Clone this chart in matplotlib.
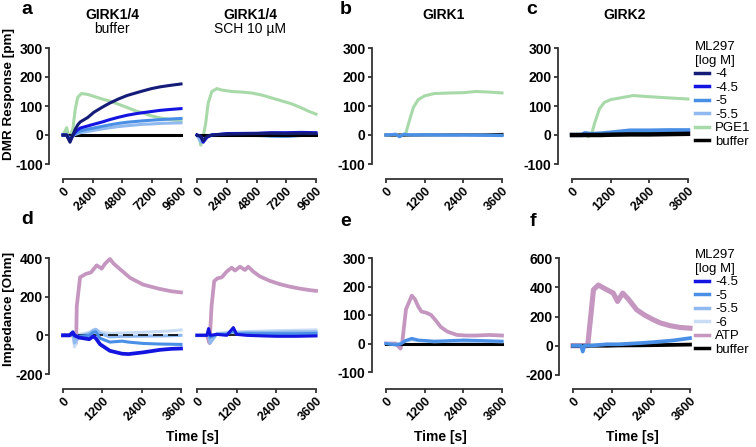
import matplotlib.pyplot as plt
from matplotlib.lines import Line2D

plt.rcParams['font.family'] = ['Liberation Sans', 'DejaVu Sans']

# colours of the series
col_m4 = '#141c78'
col_m45 = '#1414e0'
col_m5 = '#4a8fe6'
col_m55 = '#8fb9ef'
col_m6 = '#c9dcf5'
col_pge = '#a8d9a8'
col_atp = '#c496c0'
col_buf = 'black'

# ---------------- a : GIRK1/4 buffer, DMR ----------------
a_pge_t = [0, 300, 400, 550, 800, 1000, 1200, 1500, 2000, 2600, 3200, 3800, 4400, 5200, 6000, 6500, 7200, 8000, 8800, 9600]
a_pge_v = [0, 25, 5, -5, 20, 90, 130, 143, 140, 132, 124, 117, 108, 95, 82, 76, 66, 58, 53, 50]
a_t = [0, 300, 400, 570, 800, 1000, 1200, 1400, 2000, 2500, 3200, 3800, 4500, 5200, 6000, 6500, 7200, 7900, 8700, 9600]
a_m4 = [0, 0, -10, -25, 0, 20, 35, 45, 60, 78, 96, 110, 124, 136, 146, 152, 160, 166, 171, 176]
a_m45 = [0, 0, -8, -20, -2, 10, 18, 24, 31, 37, 45, 53, 61, 68, 74, 77, 81, 85, 88, 91]
a_m5 = [0, 0, -5, -15, -2, 5, 10, 14, 20, 24, 30, 35, 40, 44, 47, 49, 51, 53, 55, 57]
a_m55 = [0, 0, -5, -12, -3, 2, 5, 8, 12, 16, 21, 25, 29, 32, 35, 37, 38, 40, 41, 42]

# ---------------- a : GIRK1/4 SCH 10 uM, DMR ----------------
a2_pge_t = [0, 200, 300, 500, 700, 900, 1200, 1600, 2000, 2800, 3600, 4400, 5200, 6000, 6800, 7600, 8400, 9000, 9600]
a2_pge_v = [0, -10, -35, -5, 40, 110, 150, 160, 155, 150, 148, 145, 138, 128, 118, 108, 94, 82, 72]
a2_t = [0, 300, 500, 800, 1200, 2400, 4800, 6000, 7200, 8400, 9600]
a2_m4 = [0, -5, -20, -5, 0, 3, 5, 6, 5, 6, 5]
a2_m45 = [0, -5, -25, -8, 0, 5, 6, 8, 8, 9, 8]
a2_m5 = [0, -8, -15, -5, 0, 2, 0, -3, -4, -1, 2]
a2_m55 = [0, -25, -10, -3, 0, 0, -2, -4, -5, -2, 0]

# ---------------- b : GIRK1, DMR ----------------
b_pge_t = [0, 300, 450, 600, 700, 850, 1000, 1200, 1500, 2000, 2400, 2800, 3200, 3600]
b_pge_v = [0, 0, -3, 0, 40, 95, 122, 135, 143, 145, 146, 150, 148, 145]
b_t = [0, 300, 420, 550, 800, 1200, 1800, 2400, 3000, 3600]
b_m5 = [0, 2, -6, 2, 0, 1, 0, 0, -1, -2]
b_m55 = [0, 3, -4, 3, 1, 0, -1, 0, 0, -1]
b_buf = [0, 0, 0, 0, 0, 0, 0, 1, 1, 2]

# ---------------- c : GIRK2, DMR ----------------
c_pge_t = [0, 300, 400, 500, 600, 700, 850, 1000, 1200, 1500, 1900, 2400, 3000, 3600]
c_pge_v = [0, 0, 5, -6, 0, 40, 90, 112, 122, 128, 136, 132, 128, 124]
c_t = [0, 300, 400, 600, 900, 1200, 1800, 2400, 3000, 3600]
c_m5 = [0, 0, 6, 3, 5, 8, 15, 15, 16, 16]
c_m55 = [0, 0, 4, 2, 4, 6, 11, 12, 12, 13]
c_buf = [0, 0, 0, 0, 0, 1, 2, 2, 3, 4]

# ---------------- d : GIRK1/4 buffer, impedance ----------------
d_atp_t = [0, 300, 400, 420, 520, 700, 850, 1030, 1180, 1280, 1430, 1550, 1700, 2050, 2450, 2950, 3300, 3600]
d_atp_v = [0, 0, -40, 150, 300, 318, 325, 362, 345, 370, 395, 370, 348, 297, 262, 240, 228, 222]
d_t = [0, 200, 300, 350, 500, 800, 920, 1000, 1130, 1430, 1800, 2000, 2450, 2960, 3300, 3600]
d_m45 = [0, 0, 15, 0, -12, -20, -5, -15, -46, -80, -95, -97, -88, -75, -70, -68]
d_m5 = [0, 0, 10, -5, -5, 0, 15, 18, -15, -35, -30, -35, -42, -45, -46, -47]
d_m55 = [0, 0, 20, -40, -5, 10, 25, 30, 10, -8, -5, -5, -4, -3, -2, 0]
d_m6 = [0, 0, 15, -60, 5, 15, 28, 32, 18, 10, 12, 13, 16, 20, 23, 28]

# ---------------- d : GIRK1/4 SCH 10 uM, impedance ----------------
d2_atp_t = [0, 300, 380, 440, 520, 620, 750, 900, 1050, 1150, 1300, 1450, 1550, 1700, 1900, 2200, 2500, 2800, 3100, 3400, 3600]
d2_atp_v = [0, 0, -40, 150, 280, 295, 300, 330, 350, 335, 355, 338, 355, 330, 305, 282, 265, 252, 242, 234, 230]
d2_t = [0, 300, 350, 400, 600, 900, 1000, 1100, 1200, 1500, 2000, 2400, 3000, 3600]
d2_m45 = [0, 0, 35, 0, 5, 0, 20, 40, 5, 0, -3, -5, -5, -3]
d2_m5 = [0, 0, 20, -10, 5, 5, 15, 20, 8, 8, 8, 8, 8, 10]
d2_m55 = [0, 0, 10, -40, 8, 10, 15, 18, 12, 15, 15, 16, 18, 18]
d2_m6 = [0, 0, 5, -20, 10, 15, 20, 25, 18, 20, 22, 24, 26, 28]

# ---------------- e : GIRK1, impedance ----------------
e_atp_t = [0, 300, 450, 500, 620, 800, 900, 1000, 1100, 1250, 1400, 1550, 1700, 1900, 2200, 2500, 2800, 3200, 3600]
e_atp_v = [0, 0, -18, 0, 120, 168, 155, 130, 112, 108, 100, 80, 58, 42, 30, 28, 28, 30, 28]
e_t = [0, 300, 450, 600, 800, 1000, 1500, 2000, 2400, 3000, 3600]
e_m5 = [0, -5, -2, 10, 18, 12, 8, 10, 12, 10, 8]
e_m55 = [0, -3, 0, 8, 14, 10, 6, 8, 8, 8, 6]
e_buf = [0, 0, 0, 0, 0, 0, 0, 0, 0, 0, 0]

# ---------------- f : GIRK2, impedance ----------------
f_atp_t = [0, 300, 450, 480, 630, 780, 900, 1040, 1240, 1370, 1530, 1700, 1960, 2200, 2470, 2700, 2990, 3300, 3600]
f_atp_v = [0, 0, 0, 60, 383, 415, 400, 383, 360, 303, 360, 320, 246, 210, 178, 155, 137, 125, 120]
f_t = [0, 250, 300, 350, 600, 1040, 1400, 2060, 2500, 3080, 3600]
f_m5 = [0, 0, -40, 0, 2, 10, 10, 18, 25, 36, 52]
f_buf = [0, 0, 0, 0, 0, 0, 2, 3, 4, 6, 8]

W, H = 756, 447
fig = plt.figure(figsize=(W / 100, H / 100), dpi=100)


def panel(x0, x1, xmax, xticks, ytop, ybot, ymin, ymax, yticks, xaxis_y, show_y=True):
    # axes placed in pixels; y spine and x spine are kept apart like Prism does
    yaxis_x = x0 - 14
    left, right = yaxis_x, x1 + 3
    top, bottom = ytop - 5, xaxis_y
    ax = fig.add_axes([left / W, 1 - bottom / H, (right - left) / W, (bottom - top) / H])
    sx = xmax / (x1 - x0)
    sy = (ymax - ymin) / (ybot - ytop)
    ax.set_xlim(-(x0 - yaxis_x) * sx, xmax + 3 * sx)
    ax.set_ylim(ymin - (xaxis_y - ybot) * sy, ymax + 5 * sy)
    for s in ['top', 'right']:
        ax.spines[s].set_visible(False)
    for s in ['left', 'bottom']:
        ax.spines[s].set_linewidth(1.3)
        ax.spines[s].set_color('#333333')
    ax.spines['bottom'].set_bounds(0, xmax)
    ax.spines['left'].set_bounds(ymin, ymax)
    ax.set_xticks(xticks)
    ax.set_xticklabels([str(v) for v in xticks], rotation=45, ha='right',
                       rotation_mode='anchor', fontsize=9, fontweight='bold')
    ax.tick_params(axis='both', length=3, width=1.3, color='#333333', pad=1.5)
    if show_y:
        ax.set_yticks(yticks)
        ax.set_yticklabels([str(v) for v in yticks], fontsize=10, fontweight='bold')
    else:
        ax.spines['left'].set_visible(False)
        ax.set_yticks([])
    ax.patch.set_alpha(0)
    return ax


def add_legend(ax, colors, labels, top_px):
    handles = [Line2D([], [], color=c, lw=2.5) for c in colors]
    ax.legend(handles, labels, title='ML297\n[log M]', alignment='left', frameon=False,
              loc='upper left', bbox_to_anchor=(681 / W, 1 - top_px / H),
              bbox_transform=fig.transFigure, fontsize=9.5, title_fontsize=9.5,
              handlelength=1.05, handletextpad=0.5, labelspacing=0.1, borderpad=0.55)


lw = 2.2
t_long = [0, 2400, 4800, 7200, 9600]
t_short = [0, 1200, 2400, 3600]

# row 1
ax = panel(63, 181, 9600, t_long, 48, 164, -100, 300, [-100, 0, 100, 200, 300], 179)
ax.plot(a_pge_t, a_pge_v, color=col_pge, lw=lw)
ax.plot([0, 9600], [0, 0], color=col_buf, lw=lw)
ax.plot(a_t, a_m55, color=col_m55, lw=lw)
ax.plot(a_t, a_m5, color=col_m5, lw=lw)
ax.plot(a_t, a_m45, color=col_m45, lw=lw)
ax.plot(a_t, a_m4, color=col_m4, lw=lw)

ax = panel(197, 316, 9600, t_long, 48, 164, -100, 300, [], 179, show_y=False)
ax.plot(a2_pge_t, a2_pge_v, color=col_pge, lw=lw)
ax.plot(a2_t, a2_m55, color=col_m55, lw=lw)
ax.plot(a2_t, a2_m5, color=col_m5, lw=lw)
ax.plot([0, 9600], [0, 0], color=col_buf, lw=lw)
ax.plot(a2_t, a2_m45, color=col_m45, lw=lw)
ax.plot(a2_t, a2_m4, color=col_m4, lw=lw)

ax = panel(386, 502, 3600, t_short, 48, 164, -100, 300, [-100, 0, 100, 200, 300], 179)
ax.plot(b_pge_t, b_pge_v, color=col_pge, lw=lw)
ax.plot(b_t, b_buf, color=col_buf, lw=lw)
ax.plot(b_t, b_m55, color=col_m55, lw=lw)
ax.plot(b_t, b_m5, color=col_m5, lw=lw)

ax = panel(572, 688, 3600, t_short, 48, 164, -100, 300, [-100, 0, 100, 200, 300], 179)
ax.plot(c_pge_t, c_pge_v, color=col_pge, lw=lw)
ax.plot(c_t, c_m55, color=col_m55, lw=lw)
ax.plot(c_t, c_m5, color=col_m5, lw=lw + 1)
ax.plot(c_t, c_buf, color=col_buf, lw=lw + 1)
add_legend(ax, [col_m4, col_m45, col_m5, col_m55, col_pge, col_buf],
           ['-4', '-4.5', '-5', '-5.5', 'PGE1', 'buffer'], 27)

# row 2
ax = panel(63, 181, 3600, t_short, 258, 374, -200, 400, [-200, 0, 200, 400], 389)
ax.plot(d_atp_t, d_atp_v, color=col_atp, lw=lw + 0.5)
ax.plot(d_t, d_m6, color=col_m6, lw=lw)
ax.plot(d_t, d_m55, color=col_m55, lw=lw)
ax.plot([0, 3600], [0, 0], color=col_buf, lw=1.2, ls=(0, (6, 3)))
ax.plot(d_t, d_m5, color=col_m5, lw=lw)
ax.plot(d_t, d_m45, color=col_m45, lw=lw + 0.5)

ax = panel(197, 316, 3600, t_short, 258, 374, -200, 400, [], 389, show_y=False)
ax.plot(d2_atp_t, d2_atp_v, color=col_atp, lw=lw + 0.5)
ax.plot(d2_t, d2_m6, color=col_m6, lw=lw)
ax.plot(d2_t, d2_m55, color=col_m55, lw=lw)
ax.plot([0, 3600], [0, 0], color=col_buf, lw=1.2, ls=(0, (6, 3)))
ax.plot(d2_t, d2_m5, color=col_m5, lw=lw)
ax.plot(d2_t, d2_m45, color=col_m45, lw=lw)

ax = panel(386, 502, 3600, t_short, 258, 372, -100, 300, [-100, 0, 100, 200, 300], 389)
ax.plot(e_atp_t, e_atp_v, color=col_atp, lw=lw + 0.5)
ax.plot(e_t, e_buf, color=col_buf, lw=lw)
ax.plot(e_t, e_m55, color=col_m55, lw=lw)
ax.plot(e_t, e_m5, color=col_m5, lw=lw)

ax = panel(573, 690, 3600, t_short, 258, 375, -200, 600, [-200, 0, 200, 400, 600], 389)
ax.plot(f_atp_t, f_atp_v, color=col_atp, lw=lw + 1.5)
ax.plot(f_t, f_buf, color=col_buf, lw=lw + 0.5)
ax.plot(f_t, f_m5, color=col_m5, lw=lw + 0.5)
add_legend(ax, [col_m45, col_m5, col_m55, col_m6, col_atp, col_buf],
           ['-4.5', '-5', '-5.5', '-6', 'ATP', 'buffer'], 235)


# titles, panel letters, axis labels
def ftext(x, y, s, **kw):
    fig.text(x / W, 1 - y / H, s, ha='center', va='center', **kw)


ftext(112, 15, 'GIRK1/4', fontsize=10, fontweight='bold')
ftext(112, 29, 'buffer', fontsize=10)
ftext(250, 15, 'GIRK1/4', fontsize=10, fontweight='bold')
ftext(250, 29, 'SCH 10 µM', fontsize=10)
ftext(444, 15, 'GIRK1', fontsize=10, fontweight='bold')
ftext(625, 15, 'GIRK2', fontsize=10, fontweight='bold')
for x, y, s in [(27, 9, 'a'), (346, 10, 'b'), (532, 9, 'c'),
                (27, 220, 'd'), (346, 221, 'e'), (533, 222, 'f')]:
    ftext(x, y, s, fontsize=14, fontweight='bold')
ftext(9, 94, 'DMR Response [pm]', fontsize=9.7, fontweight='bold', rotation=90)
ftext(9, 309, 'Impedance [Ohm]', fontsize=9.7, fontweight='bold', rotation=90)
for x in [192, 440, 632]:
    ftext(x, 437, 'Time [s]', fontsize=10, fontweight='bold')

fig.savefig('out.png', dpi=100)
